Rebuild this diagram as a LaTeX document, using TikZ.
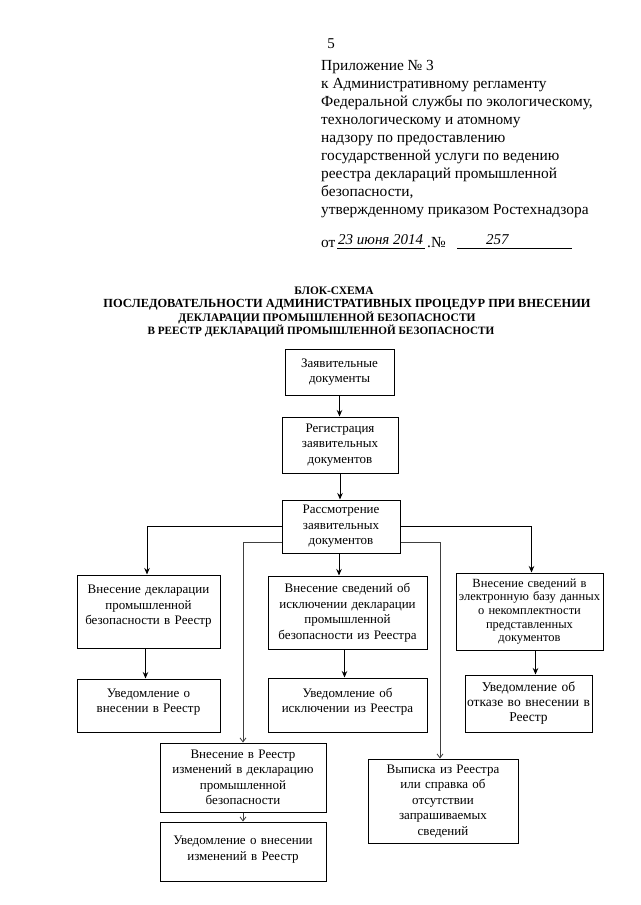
\documentclass[tikz,border=0pt]{standalone}
\usepackage{fontspec}
\setmainfont{Liberation Serif}
\usetikzlibrary{arrows.meta}
\tikzset{
  hdr/.style={anchor=base west, inner sep=0pt, font=\fontsize{15.4}{18}\selectfont},
  ttl/.style={anchor=base, inner sep=0pt, font=\bfseries\fontsize{11.4}{13}\selectfont},
  box/.style={draw, line width=1pt, align=center, inner xsep=0pt, inner ysep=2pt,
    font=\fontsize{13}{15.5}\selectfont},
  bx/.style 2 args={text width=#1pt, minimum height=#2pt},
  lift/.style={text depth=#1pt},
  arr/.style={line width=1pt, -{Stealth[length=6.5pt,width=5.5pt]}},
  thinarr/.style={line width=0.8pt, black!75, -{Straight Barb[length=4pt,width=6pt]}},
}
\begin{document}
\begin{tikzpicture}[x=1pt,y=-1pt]
\useasboundingbox (0,0) rectangle (640,905);
\fill[white] (0,0) rectangle (640,905);

% header
\node[anchor=base, inner sep=0pt, font=\fontsize{15}{15}\selectfont] (pg) at (331,48) {5};
\node[hdr] (h1) at (321,70.0) {Приложение № 3};
\node[hdr] (h2) at (321,88.1) {к Административному регламенту};
\node[hdr] (h3) at (321,106.2) {Федеральной службы по экологическому,};
\node[hdr] (h4) at (321,124.3) {технологическому и атомному};
\node[hdr] (h5) at (321,142.4) {надзору по предоставлению};
\node[hdr] (h6) at (321,160.5) {государственной услуги по ведению};
\node[hdr] (h7) at (321,178.6) {реестра деклараций промышленной};
\node[hdr] (h8) at (321,196.7) {безопасности,};
\node[hdr] (h9) at (321,214.8) {утвержденному приказом Ростехнадзора};
\node[hdr] (ot) at (321,247) {от};
\node[anchor=base west, inner sep=0pt, font=\itshape\fontsize{15}{15}\selectfont] (dt) at (338,244) {23 июня 2014};
\node[hdr] (no) at (427,247) {.№};
\node[anchor=base west, inner sep=0pt, font=\itshape\fontsize{15}{15}\selectfont] (nm) at (486,244) {257};
\draw[line width=0.8pt] (337,248) -- (425,248);
\draw[line width=0.8pt] (457,248) -- (572,248);

% title
\node[ttl] (t1) at (334,294) {БЛОК-СХЕМА};
\node[ttl, font=\bfseries\fontsize{12.4}{13}\selectfont] (t2) at (347,307.5) {ПОСЛЕДОВАТЕЛЬНОСТИ АДМИНИСТРАТИВНЫХ ПРОЦЕДУР ПРИ ВНЕСЕНИИ};
\node[ttl, font=\bfseries\fontsize{11.5}{13}\selectfont] (t3) at (327,321) {ДЕКЛАРАЦИИ ПРОМЫШЛЕННОЙ БЕЗОПАСНОСТИ};
\node[ttl, font=\bfseries\fontsize{11.2}{13}\selectfont] (t4) at (321,334.5) {В РЕЕСТР ДЕКЛАРАЦИЙ ПРОМЫШЛЕННОЙ БЕЗОПАСНОСТИ};

% boxes
\node[box, bx={109}{46}] (b1) at (339.5,372) {Заявительные\\документы};
\node[box, bx={116}{56}] (b2) at (340,445) {Регистрация\\заявительных\\документов};
\node[box, bx={118}{53}] (b3) at (341,526.5) {Рассмотрение\\заявительных\\документов};

\node[box, bx={143}{73}, lift=44] (l1) at (148.5,611.5) {Внесение декларации\\промышленной\\безопасности в Реестр};
\node[box, bx={143}{53}, lift=25] (l2) at (148.5,705.5) {Уведомление о\\внесении в Реестр};

\node[box, bx={159}{73}] (m1) at (347.5,612.5) {Внесение сведений об\\исключении декларации\\промышленной\\безопасности из Реестра};
\node[box, bx={159}{54}, lift=25] (m2) at (347.5,705) {Уведомление об\\исключении из Реестра};

\node[box, bx={147}{77}, font=\fontsize{12.5}{13.7}\selectfont] (r1) at (529.5,611.5) {Внесение сведений в\\электронную базу данных\\о некомплектности\\представленных\\документов};
\node[box, bx={127}{57}, font=\fontsize{13.5}{15}\selectfont] (r2) at (528.5,703.5) {Уведомление об\\отказе во внесении в\\Реестр};

\node[box, bx={166}{69}] (c1) at (243,777.5) {Внесение в Реестр\\изменений в декларацию\\промышленной\\безопасности};
\node[box, bx={166}{59}, lift=22] (c2) at (243,851.5) {Уведомление о внесении\\изменений в Реестр};

\node[box, bx={150}{84}] (v1) at (443,801) {Выписка из Реестра\\или справка об\\отсутствии\\запрашиваемых\\сведений};

% connectors
\draw[arr] (b1.south) -- (b1.south |- b2.north);
\draw[arr] (b2.south) -- (b2.south |- b3.north);
\draw[arr] (b3.west) -| ([xshift=-1.5pt]l1.north);
\draw[arr] (b3.east) -| ([xshift=2pt]r1.north);
\draw[arr] ([xshift=-2pt]b3.south) -- ([xshift=-2pt]b3.south |- m1.north);
\draw[thinarr] ([yshift=-16pt]b3.west) -| (c1.north);
\draw[thinarr] ([yshift=-16pt]b3.east) -| ([xshift=-3pt]v1.north);
\draw[arr] ([xshift=-3pt]l1.south) -- ([xshift=-3pt]l1.south |- l2.north);
\draw[arr] ([xshift=-3pt]m1.south) -- ([xshift=-3pt]m1.south |- m2.north);
\draw[arr] ([xshift=6pt]r1.south) -- ([xshift=6pt]r1.south |- r2.north);
\draw[thinarr] (c1.south) -- (c2.north);
\end{tikzpicture}
\end{document}
